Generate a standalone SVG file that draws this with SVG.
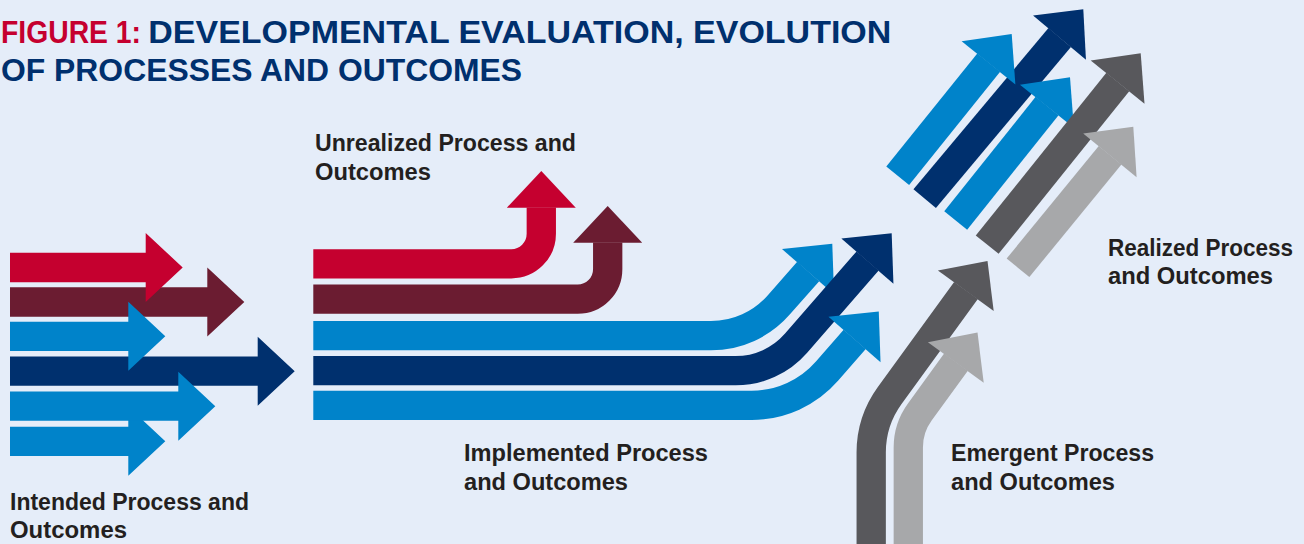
<svg xmlns="http://www.w3.org/2000/svg" width="1304" height="544" viewBox="0 0 1304 544">
<style>
.bg{fill:#E5EDF9}
.red{fill:#C5002F}.redS{stroke:#C5002F}
.mar{fill:#6B1C31}.marS{stroke:#6B1C31}
.lb{fill:#0083CA}.lbS{stroke:#0083CA}
.nv{fill:#00306E}.nvS{stroke:#00306E}
.dg{fill:#58585C}.dgS{stroke:#58585C}
.lg{fill:#A7A8AA}.lgS{stroke:#A7A8AA}
.body{fill:none;stroke-width:29.3;stroke-linecap:butt;stroke-linejoin:round}
.title{font-family:"Liberation Sans",Arial,sans-serif;font-weight:bold;font-size:31px;fill:#00306E}
.lbl{font-family:"Liberation Sans",Arial,sans-serif;font-weight:bold;font-size:23px;fill:#231F20}
</style>
<rect class="bg" x="0" y="0" width="1304" height="544"/>

<g id="title">
<text class="title" x="1" y="42.7"><tspan fill="#C5002F" textLength="140" lengthAdjust="spacingAndGlyphs">FIGURE 1:</tspan></text>
<text class="title" x="148.3" y="42.7" textLength="743" lengthAdjust="spacingAndGlyphs">DEVELOPMENTAL EVALUATION, EVOLUTION</text>
<text class="title" x="1" y="81" textLength="521" lengthAdjust="spacingAndGlyphs">OF PROCESSES AND OUTCOMES</text>
</g>

<g id="connectors">
<g id="intended-maroon"><polygon class="mar" points="10,287.35 207.3,287.35 207.3,267.5 244.3,302 207.3,336.5 207.3,316.65 10,316.65"/></g>
<g id="intended-navy"><polygon class="nv" points="10,356.55 257.7,356.55 257.7,336.7 294.7,371.2 257.7,405.7 257.7,385.85 10,385.85"/></g>
<g id="intended-red"><polygon class="red" points="10,252.85 145.7,252.85 145.7,233 182.7,267.5 145.7,302 145.7,282.15 10,282.15"/></g>
<g id="intended-blue1"><polygon class="lb" points="10,321.65 128.3,321.65 128.3,301.8 165.3,336.3 128.3,370.8 128.3,350.95 10,350.95"/></g>
<g id="intended-blue3"><polygon class="lb" points="10,426.65 128.3,426.65 128.3,406.8 165.3,441.3 128.3,475.8 128.3,455.95 10,455.95"/></g>
<g id="intended-blue2"><polygon class="lb" points="10,391.55 178.3,391.55 178.3,371.7 215.3,406.2 178.3,440.7 178.3,420.85 10,420.85"/></g>

<g id="unrealized-red"><path class="body redS" d="M313.3,263.8 H511.3 A30,30 0 0 0 541.3,233.8 V207.5"/><polygon class="red" points="506.8,207.7 541.3,171 575.8,207.7"/></g>
<g id="unrealized-maroon"><path class="body marS" d="M313.3,299.2 H577.7 A30,30 0 0 0 607.7,269.2 V242.5"/><polygon class="mar" points="573.2,242.7 607.7,206 642.2,242.7"/></g>

<g id="implemented-blue1"><path class="body lbS" d="M313.3,335.7 H711 A90,90 0 0 0 778.9,304.75 L808.2,271.5"/><polygon class="lb" points="781.96,249.06 832.28,243.78 834.04,294.34"/></g>
<g id="implemented-navy"><path class="body nvS" d="M313.3,370.7 H735.7 A80,80 0 0 0 796.1,343.2 L867.6,261"/><polygon class="nv" points="841.36,238.56 891.68,233.28 893.44,283.84"/></g>
<g id="implemented-blue2"><path class="body lbS" d="M313.3,405.3 H751.7 A100,100 0 0 0 827.2,370.9 L854.7,339.3"/><polygon class="lb" points="828.46,316.86 878.78,311.58 880.54,362.14"/></g>

<g id="emergent-dark"><path class="body dgS" d="M871.2,550 V452.5 A97,97 0 0 1 889.7,395.5 L966,290.5"/><polygon class="dg" points="937.9,270.5 987.5,260.9 993.7,311.1"/></g>
<g id="emergent-light"><path class="body lgS" d="M908.3,550 V447.3 A60,60 0 0 1 919.8,412 L956,362.2"/><polygon class="lg" points="927.9,342.2 977.5,332.6 983.7,382.8"/></g>

<g id="realized-navy"><path class="body nvS" d="M924.7,198.7 L1059.7,37.5"/><polygon class="nv" points="1033.05,15.55 1083.3,9.3 1085.95,59.85"/></g>
<g id="realized-blue1"><path class="body lbS" d="M897.7,175.8 L988.7,62.6"/><polygon class="lb" points="961.62,41.19 1011.7,34 1015.38,84.41"/></g>
<g id="realized-blue2"><path class="body lbS" d="M955.7,220.5 L1047.1,106"/><polygon class="lb" points="1019.93,84.68 1070,77.3 1073.87,127.72"/></g>
<g id="realized-dark"><path class="body dgS" d="M987.2,244.7 L1117.8,82"/><polygon class="dg" points="1090.69,60.62 1140.7,53.3 1144.51,103.78"/></g>
<g id="realized-light"><path class="body lgS" d="M1018,267.8 L1110.1,155.2"/><polygon class="lg" points="1083.18,133.57 1133.3,126.7 1136.62,177.23"/></g>
</g>

<g id="labels">
<g id="label-unrealized">
<text class="lbl" x="315" y="151" textLength="261" lengthAdjust="spacingAndGlyphs">Unrealized Process and</text>
<text class="lbl" x="315" y="180" textLength="116" lengthAdjust="spacingAndGlyphs">Outcomes</text>
</g>
<g id="label-implemented">
<text class="lbl" x="464" y="461" textLength="244" lengthAdjust="spacingAndGlyphs">Implemented Process</text>
<text class="lbl" x="464" y="490" textLength="164" lengthAdjust="spacingAndGlyphs">and Outcomes</text>
</g>
<g id="label-emergent">
<text class="lbl" x="951" y="461" textLength="203" lengthAdjust="spacingAndGlyphs">Emergent Process</text>
<text class="lbl" x="951" y="490" textLength="164" lengthAdjust="spacingAndGlyphs">and Outcomes</text>
</g>
<g id="label-realized">
<text class="lbl" x="1108" y="255.7" textLength="185" lengthAdjust="spacingAndGlyphs">Realized Process</text>
<text class="lbl" x="1108" y="283.5" textLength="165" lengthAdjust="spacingAndGlyphs">and Outcomes</text>
</g>
<g id="label-intended">
<text class="lbl" x="10" y="510" textLength="239" lengthAdjust="spacingAndGlyphs">Intended Process and</text>
<text class="lbl" x="10" y="537.5" textLength="117" lengthAdjust="spacingAndGlyphs">Outcomes</text>
</g>
</g>
</svg>
